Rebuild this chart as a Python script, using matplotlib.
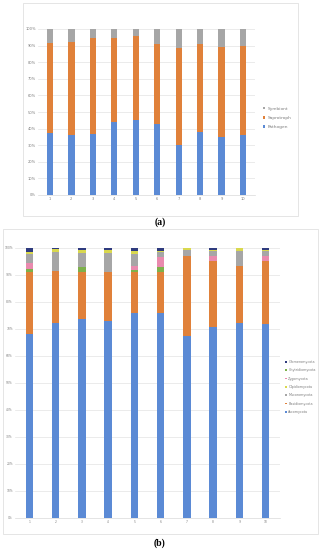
import matplotlib
matplotlib.use("Agg")
import matplotlib.pyplot as plt
from matplotlib.patches import Rectangle
import numpy as np

W, H = 321, 550
DPI = 100

samples = ["1", "2", "3", "4", "5", "6", "7", "8", "9", "10"]

# Panel (a): functional guilds (%)
pathogen = [37.5, 36.0, 37.0, 44.0, 45.0, 43.0, 30.0, 38.0, 35.0, 36.0]
saprotroph = [54.3, 56.4, 57.4, 50.8, 50.8, 48.0, 58.6, 52.8, 54.4, 54.0]
symbiont = [8.2, 7.6, 5.6, 5.2, 4.2, 9.0, 11.4, 9.2, 10.6, 10.0]

# Panel (b): phyla (%)
ascomycota = [68.0, 72.0, 73.5, 72.8, 75.7, 75.9, 67.3, 70.7, 72.0, 71.6]
basidiomycota = [23.0, 19.4, 17.5, 18.3, 15.4, 15.2, 29.7, 24.5, 21.2, 23.6]
chytridiomycota = [1.0, 0.0, 1.8, 0.0, 0.6, 1.9, 0.0, 0.0, 0.0, 0.0]
zygomycota = [2.3, 0.0, 0.0, 0.0, 1.6, 3.5, 0.0, 1.8, 0.0, 1.7]
mucoromycota = [3.2, 7.1, 5.2, 6.9, 4.5, 1.8, 2.2, 1.7, 5.6, 2.0]
olpidiomycota = [0.8, 1.0, 1.0, 1.0, 0.9, 0.6, 0.8, 0.4, 1.2, 0.2]
glomeromycota = [1.7, 0.5, 1.0, 1.0, 1.3, 1.1, 0.0, 0.9, 0.0, 0.9]

yticks = [0, 10, 20, 30, 40, 50, 60, 70, 80, 90, 100]
ytick_labels = ["0%", "10%", "20%", "30%", "40%", "50%", "60%", "70%", "80%", "90%", "100%"]

C_BLUE = "#5B8AD5"
C_ORANGE = "#E0813A"
C_GREY = "#A6A6A6"
C_YELLOW = "#D9D84E"
C_GREEN = "#7DB14B"
C_PINK = "#E98AAE"
C_NAVY = "#2F3B7E"
GRID = "#E3E3E3"
TXT = "#7F7F7F"

fig = plt.figure(figsize=(W / DPI, H / DPI), dpi=DPI)
fig.patch.set_facecolor("white")

def px_axes(x0, y0, x1, y1):
    return fig.add_axes([x0 / W, 1 - y1 / H, (x1 - x0) / W, (y1 - y0) / H])

def border(x0, y0, x1, y1):
    fig.patches.append(Rectangle((x0 / W, 1 - y1 / H), (x1 - x0) / W, (y1 - y0) / H,
                                 transform=fig.transFigure, fill=False,
                                 edgecolor="#E0E0E0", linewidth=0.6))

def style_axes(ax, fs):
    ax.set_ylim(0, 100)
    ax.set_yticks(yticks)
    ax.set_yticklabels(ytick_labels, fontsize=fs, color=TXT)
    ax.set_xticks(np.arange(len(samples)))
    ax.set_xticklabels(samples, fontsize=fs, color=TXT)
    ax.tick_params(length=0, pad=1.5)
    for s in ["top", "right", "left"]:
        ax.spines[s].set_visible(False)
    ax.spines["bottom"].set_color("#D9D9D9")
    ax.spines["bottom"].set_linewidth(0.5)
    ax.yaxis.grid(True, color=GRID, linewidth=0.5)
    ax.set_axisbelow(True)

# ---------- Panel (a) ----------
border(23, 3, 298, 216)
axa = px_axes(38, 29, 255, 195)
x = np.arange(len(samples))
bw = 0.3
bottom = np.zeros(len(samples))
ha = []
for vals, col, lab in [(pathogen, C_BLUE, "Pathogen"),
                       (saprotroph, C_ORANGE, "Saprotroph"),
                       (symbiont, C_GREY, "Symbiont")]:
    b = axa.bar(x, vals, bw, bottom=bottom, color=col, label=lab, linewidth=0)
    ha.append(b)
    bottom += np.array(vals)
axa.set_xlim(-0.55, len(samples) - 0.45)
style_axes(axa, 2.6)
fig.legend(ha[::-1], ["Symbiont", "Saprotroph", "Pathogen"],
           loc="center left", bbox_to_anchor=(259 / W, 1 - 118 / H),
           frameon=False, fontsize=3.2, handlelength=0.5, handleheight=0.5,
           handletextpad=0.5, labelspacing=1.2, labelcolor=TXT)
fig.text(160 / W, 1 - 222 / H, "(a)", ha="center", va="center",
         fontsize=7, fontweight="bold", family="Liberation Serif")

# ---------- Panel (b) ----------
border(3, 229, 318, 534)
axb = px_axes(15, 247.7, 280, 517.7)
bw2 = 0.28
bottom = np.zeros(len(samples))
series_b = [(ascomycota, C_BLUE, "Ascomycota"),
            (basidiomycota, C_ORANGE, "Basidiomycota"),
            (chytridiomycota, C_GREEN, "Chytridiomycota"),
            (zygomycota, C_PINK, "Zygomycota"),
            (mucoromycota, C_GREY, "Mucoromycota"),
            (olpidiomycota, C_YELLOW, "Olpidiomycota"),
            (glomeromycota, C_NAVY, "Glomeromycota")]
hb = {}
for vals, col, lab in series_b:
    b = axb.bar(x, vals, bw2, bottom=bottom, color=col, label=lab, linewidth=0)
    hb[lab] = b
    bottom += np.array(vals)
axb.set_xlim(-0.55, len(samples) - 0.45)
style_axes(axb, 2.2)
order = ["Glomeromycota", "Chytridiomycota", "Zygomycota", "Olpidiomycota",
         "Mucoromycota", "Basidiomycota", "Ascomycota"]
fig.legend([hb[k] for k in order], order,
           loc="center left", bbox_to_anchor=(282 / W, 1 - 387 / H),
           frameon=False, fontsize=2.4, handlelength=0.5, handleheight=0.5,
           handletextpad=0.5, labelspacing=1.3, labelcolor=TXT)
fig.text(160 / W, 1 - 543 / H, "(b)", ha="center", va="center",
         fontsize=7, fontweight="bold", family="Liberation Serif")

fig.savefig("out.png", dpi=DPI, facecolor="white")
